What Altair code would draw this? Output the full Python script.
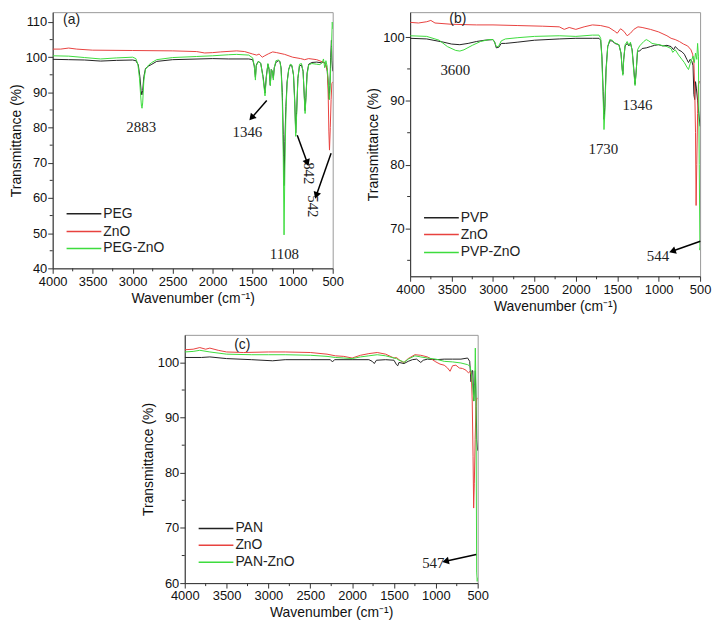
import math
import altair as alt
import pandas as pd

SANS = "Liberation Sans"
SERIF = "Liberation Serif"
C_BLACK, C_RED, C_GREEN = "#222222", "#e8423f", "#3ddc3d"
ROLES = ["polymer", "ZnO", "composite"]

X_TICKS = [4000, 3500, 3000, 2500, 2000, 1500, 1000, 500]
X_MINOR = [3750, 3250, 2750, 2250, 1750, 1250, 750]

# ---------------- panel (a) ----------------
A_PEG_WN = [4000, 3800, 3600, 3400, 3200, 3000, 2960, 2930, 2910, 2895, 2885, 2875, 2860, 2840, 2800, 2760, 2700, 2500, 2000, 1800, 1550, 1500, 1480, 1466, 1455, 1430, 1400, 1370, 1346, 1330, 1310, 1295, 1280, 1268, 1255, 1242, 1230, 1210, 1180, 1160, 1145, 1130, 1118, 1108, 1098, 1085, 1070, 1050, 1030, 1010, 990, 975, 962, 950, 935, 915, 890, 870, 855, 845, 835, 820, 800, 760, 700, 640, 610, 590, 570, 555, 545, 535, 525, 516, 508, 500]
A_PEG_T = [99.4, 99.3, 99.2, 98.9, 99.1, 99.2, 99.0, 97.8, 94.5, 90.5, 89.3, 90.5, 94.5, 96.8, 97.5, 98.0, 98.8, 99.3, 99.6, 99.5, 99.5, 99.3, 97.5, 94.3, 97.8, 98.8, 98.3, 94.5, 89.8, 94.5, 98.0, 96.5, 92.0, 96.5, 96.0, 94.0, 97.0, 98.5, 99.0, 98.8, 97.0, 90.0, 78.0, 63.5, 76.0, 86.0, 93.0, 96.5, 97.8, 97.5, 95.0, 88.0, 78.5, 85.0, 94.0, 97.5, 97.8, 96.0, 89.0, 84.8, 88.5, 95.5, 98.0, 98.5, 98.6, 98.4, 98.6, 98.0, 96.5, 92.0, 88.0, 92.0, 100.0, 104.8, 99.0, 96.0]
A_ZNO_WN = [4000, 3900, 3800, 3700, 3500, 3000, 2500, 2200, 2100, 2000, 1900, 1700, 1600, 1500, 1450, 1420, 1380, 1350, 1300, 1250, 1200, 1100, 1000, 900, 850, 800, 700, 620, 590, 565, 555, 548, 540, 530, 520, 510, 500]
A_ZNO_T = [102.3, 102.3, 102.6, 102.3, 102.0, 101.9, 101.8, 101.6, 101.2, 101.3, 101.5, 101.8, 101.6, 100.9, 100.6, 100.9, 100.0, 100.4, 101.0, 101.5, 101.3, 100.8, 100.0, 99.6, 99.3, 99.6, 99.3, 98.6, 98.0, 96.0, 88.0, 79.0, 73.6, 80.0, 88.0, 92.5, 93.0]
A_MIX_WN = [4000, 3800, 3600, 3400, 3200, 3000, 2960, 2935, 2915, 2900, 2890, 2883, 2875, 2860, 2840, 2800, 2760, 2700, 2500, 2200, 2000, 1800, 1700, 1550, 1500, 1480, 1466, 1455, 1430, 1400, 1370, 1346, 1330, 1310, 1295, 1280, 1268, 1255, 1242, 1230, 1210, 1180, 1160, 1145, 1130, 1118, 1108, 1098, 1085, 1070, 1050, 1030, 1010, 990, 975, 962, 950, 935, 915, 890, 870, 855, 845, 835, 820, 800, 760, 700, 660, 630, 615, 600, 585, 570, 555, 542, 535, 525, 515, 505, 500]
A_MIX_T = [100.4, 100.3, 99.9, 99.5, 99.8, 100.0, 99.6, 98.0, 94.0, 89.0, 86.0, 85.5, 87.0, 93.5, 96.5, 97.8, 98.5, 99.3, 99.9, 100.2, 100.4, 100.7, 100.8, 100.6, 99.8, 97.5, 93.5, 97.5, 98.8, 98.3, 94.0, 89.0, 94.0, 98.2, 96.8, 92.0, 96.5, 96.0, 93.5, 97.0, 99.0, 99.2, 98.8, 96.5, 88.0, 72.0, 49.5, 68.0, 84.0, 92.5, 96.5, 98.0, 97.8, 95.0, 87.0, 77.5, 84.0, 94.0, 98.0, 98.2, 96.0, 88.5, 84.0, 88.0, 95.0, 97.8, 98.2, 98.0, 97.9, 98.5, 99.5, 97.0, 99.0, 97.5, 93.0, 88.0, 90.0, 97.0, 103.0, 110.0, 108.0]

# ---------------- panel (b) ----------------
B_PVP_WN = [4000, 3800, 3600, 3500, 3400, 3300, 3200, 3100, 3000, 2980, 2960, 2930, 2900, 2850, 2700, 2500, 2200, 2000, 1800, 1720, 1700, 1685, 1670, 1660, 1650, 1635, 1615, 1590, 1560, 1530, 1480, 1455, 1440, 1432, 1422, 1405, 1380, 1360, 1340, 1320, 1300, 1285, 1272, 1255, 1230, 1200, 1150, 1100, 1050, 1000, 950, 900, 850, 820, 800, 760, 720, 690, 660, 640, 620, 600, 585, 575, 565, 555, 545, 530, 515, 500]
B_PVP_T = [99.8, 99.7, 99.2, 98.9, 98.8, 99.0, 99.3, 99.5, 99.6, 99.2, 98.3, 98.4, 99.0, 99.0, 99.2, 99.5, 99.7, 99.8, 99.8, 99.8, 99.5, 97.0, 91.5, 87.1, 89.0, 95.0, 98.5, 99.4, 99.4, 99.0, 98.8, 97.5, 95.0, 94.2, 96.5, 98.6, 99.0, 98.6, 99.0, 98.0, 95.0, 92.6, 94.5, 97.8, 97.8, 98.2, 98.3, 98.5, 98.7, 98.8, 98.6, 98.7, 98.5, 98.0, 98.5, 98.0, 97.7, 97.3, 96.5, 96.0, 96.5, 96.2, 95.5, 91.0, 90.2, 93.0, 92.0, 90.0, 88.0, 86.0]
B_ZNO_WN = [4000, 3900, 3800, 3750, 3700, 3500, 3200, 3000, 2700, 2400, 2200, 2140, 2080, 2000, 1900, 1800, 1700, 1600, 1530, 1500, 1460, 1420, 1380, 1340, 1300, 1250, 1200, 1100, 1000, 900, 850, 800, 750, 700, 650, 610, 590, 575, 565, 555, 548, 540, 530, 520, 510, 500]
B_ZNO_T = [102.3, 102.2, 102.4, 102.6, 102.2, 102.0, 101.9, 101.9, 101.8, 101.7, 101.6, 101.2, 101.5, 101.2, 101.6, 101.9, 101.8, 101.5, 100.9, 100.6, 101.3, 100.9, 100.2, 100.6, 101.2, 101.6, 101.5, 101.2, 100.8, 100.2, 99.8, 99.6, 99.3, 98.9, 98.6, 98.0, 97.3, 96.0, 92.0, 85.0, 73.6, 80.0, 88.0, 92.5, 93.0, 93.0]
B_MIX_WN = [4000, 3800, 3650, 3550, 3450, 3400, 3350, 3250, 3150, 3050, 3000, 2980, 2960, 2935, 2900, 2850, 2700, 2500, 2200, 2000, 1800, 1720, 1700, 1685, 1670, 1660, 1650, 1635, 1615, 1590, 1560, 1530, 1480, 1455, 1440, 1432, 1422, 1405, 1380, 1360, 1340, 1320, 1300, 1285, 1272, 1255, 1230, 1180, 1150, 1120, 1080, 1000, 900, 850, 830, 800, 760, 720, 690, 660, 640, 620, 600, 585, 570, 555, 540, 530, 520, 510, 502, 500]
B_MIX_T = [100.2, 100.1, 99.5, 98.5, 97.9, 97.8, 98.0, 98.7, 99.3, 99.6, 99.6, 99.2, 98.5, 98.5, 99.4, 99.7, 99.9, 100.1, 100.2, 100.1, 100.3, 100.3, 99.8, 96.5, 90.5, 85.5, 88.0, 94.5, 98.5, 99.6, 99.5, 99.1, 98.8, 97.5, 94.8, 94.0, 96.5, 98.8, 99.3, 98.7, 99.2, 97.8, 94.5, 92.4, 94.5, 98.0, 98.6, 99.3, 99.6, 99.4, 99.0, 98.8, 98.5, 98.2, 97.6, 98.0, 97.2, 96.5, 96.0, 95.3, 94.9, 95.8, 96.5, 97.0, 96.0, 97.5, 96.5, 99.0, 97.0, 80.0, 66.6, 67.0]

# ---------------- panel (c) ----------------
C_PAN_WN = [4000, 3800, 3700, 3500, 3200, 2950, 2800, 2500, 2260, 2235, 2210, 2000, 1800, 1760, 1735, 1710, 1600, 1500, 1470, 1455, 1440, 1380, 1330, 1280, 1230, 1180, 1150, 1100, 1000, 900, 800, 700, 620, 595, 580, 568, 558, 548, 538, 528, 518, 510, 500]
C_PAN_T = [100.9, 100.9, 101.0, 100.7, 100.5, 100.3, 100.5, 100.5, 100.5, 100.1, 100.5, 100.5, 100.5, 100.2, 99.8, 100.4, 100.5, 100.4, 99.6, 99.4, 100.0, 99.8, 100.2, 100.5, 100.6, 100.0, 100.4, 100.6, 100.5, 100.6, 100.6, 100.6, 100.8, 100.2, 96.5, 98.5, 98.5, 93.0, 95.0, 98.5, 92.0, 86.0, 84.0]
C_ZNO_WN = [4000, 3900, 3820, 3750, 3700, 3600, 3500, 3300, 3000, 2800, 2500, 2300, 2200, 2100, 2000, 1900, 1800, 1700, 1600, 1500, 1470, 1440, 1400, 1380, 1330, 1250, 1180, 1100, 1050, 1000, 950, 900, 860, 830, 800, 760, 720, 680, 640, 610, 590, 575, 565, 555, 548, 540, 530, 520, 510, 500]
C_ZNO_T = [102.3, 102.4, 102.7, 102.4, 102.6, 102.2, 101.9, 101.8, 101.9, 101.9, 101.8, 101.5, 101.2, 101.1, 100.8, 101.3, 101.6, 101.8, 101.5, 100.8, 100.9, 100.5, 100.1, 100.0, 100.7, 101.4, 101.3, 101.0, 100.6, 100.1, 99.7, 99.5, 99.0, 98.4, 99.4, 99.5, 99.0, 98.9, 98.6, 98.1, 98.4, 97.6, 93.0, 83.0, 73.6, 78.0, 86.0, 92.0, 93.5, 93.5]
C_MIX_WN = [4000, 3900, 3820, 3700, 3500, 3200, 3000, 2800, 2500, 2300, 2200, 2100, 2000, 1900, 1800, 1700, 1600, 1500, 1470, 1440, 1400, 1380, 1330, 1250, 1180, 1100, 1000, 900, 800, 700, 620, 590, 575, 565, 555, 545, 535, 528, 520, 512, 505, 500]
C_MIX_T = [101.9, 102.0, 102.2, 101.9, 101.5, 101.4, 101.4, 101.4, 101.3, 101.1, 100.9, 100.8, 100.7, 101.0, 101.2, 101.4, 101.2, 100.8, 100.7, 100.4, 100.2, 100.0, 100.6, 101.2, 101.0, 100.8, 100.6, 100.2, 100.1, 99.9, 99.6, 99.3, 98.0, 96.5, 95.0, 93.0, 96.0, 102.6, 95.0, 62.0, 60.3, 61.0]

# ---------------- annotations ----------------
A_LABELS = ["2883", "1346", "1108"]
A_LABEL_X = [2893, 1566, 1103]
A_LABEL_Y = [80.2, 78.8, 44.1]
A_RLABELS = ["842", "542"]
A_RLABEL_X = [801, 741]
A_RLABEL_Y = [67.0, 57.6]
A_ARROW_X1 = [1324, 943, 520]
A_ARROW_Y1 = [87.7, 77.8, 72.7]
A_ARROW_X2 = [1505, 822, 701]
A_ARROW_Y2 = [83.0, 70.3, 61.0]

B_LABELS = ["3600", "1730", "1346", "544"]
B_LABEL_X = [3455, 1668, 1256, 1008]
B_LABEL_Y = [94.9, 82.4, 89.3, 65.6]
B_ARROW_X1 = [497]
B_ARROW_Y1 = [68.0]
B_ARROW_X2 = [822]
B_ARROW_Y2 = [66.5]

C_LABELS = ["547"]
C_LABEL_X = [1030]
C_LABEL_Y = [63.7]
C_ARROW_X1 = [517]
C_ARROW_Y1 = [65.2]
C_ARROW_X2 = [871]
C_ARROW_Y2 = [64.0]


def panel(series, names, ydom, yticks, yminor, W, H, labels, rlabels, arrows,
          tag, tagpos, leg_offsets):
    colors = [C_BLACK, C_RED, C_GREEN]
    rows = []
    for role, (wn, t) in zip(ROLES, series):
        for a, b in zip(wn, t):
            rows.append({"wn": a, "t": b, "role": role})
    df = pd.DataFrame(rows)
    xs = alt.Scale(domain=[500, 4000], reverse=True, nice=False, zero=False)
    ys = alt.Scale(domain=ydom, nice=False, zero=False)
    xa = alt.Axis(values=X_TICKS, title="Wavenumber (cm⁻¹)", orient="bottom",
                  tickSize=5, labelFlush=False, labelOverlap=False, format="d",
                  labelPadding=2, titlePadding=3)
    ya = alt.Axis(values=yticks, title="Transmittance (%)", orient="left",
                  tickSize=5, labelFlush=False, labelOverlap=False, format="d",
                  labelPadding=1, titlePadding=2)

    def X(f):
        return alt.X(f, scale=xs, axis=xa)

    def Y(f):
        return alt.Y(f, scale=ys, axis=ya)

    lines = alt.Chart(df).mark_line(strokeWidth=1, clip=True).encode(
        x=X("wn:Q"), y=Y("t:Q"),
        color=alt.Color("role:N", scale=alt.Scale(domain=ROLES, range=colors), legend=None),
    )
    layers = [lines]

    # minor ticks (outside the frame)
    mx = pd.DataFrame({"v": X_MINOR})
    layers.append(alt.Chart(mx).mark_rule(color="#333", strokeWidth=1).encode(
        x=X("v:Q"), y=alt.value(H), y2=alt.value(H + 3)))
    my = pd.DataFrame({"v": yminor})
    layers.append(alt.Chart(my).mark_rule(color="#333", strokeWidth=1).encode(
        y=Y("v:Q"), x=alt.value(0), x2=alt.value(-3)))

    lx, ly, lt = labels
    tdf = pd.DataFrame({"x": lx, "y": ly, "label": lt})
    layers.append(alt.Chart(tdf).mark_text(font=SERIF, fontSize=15, color="#222").encode(
        x=X("x:Q"), y=Y("y:Q"), text="label:N"))
    if rlabels is not None:
        rx, ry, rt = rlabels
        rdf = pd.DataFrame({"x": rx, "y": ry, "label": rt})
        layers.append(alt.Chart(rdf).mark_text(font=SERIF, fontSize=15, color="#222",
                                               angle=90).encode(
            x=X("x:Q"), y=Y("y:Q"), text="label:N"))

    x1, y1, x2, y2 = arrows
    kx = W / 3500.0
    ky = H / (ydom[1] - ydom[0])
    ang = []
    for a, b, c, d in zip(x1, y1, x2, y2):
        dx = -(c - a) * kx
        dy = -(d - b) * ky
        ang.append(math.degrees(math.atan2(dx, -dy)) % 360)
    adf = pd.DataFrame({"x1": x1, "y1": y1, "x2": x2, "y2": y2, "ang": ang})
    layers.append(alt.Chart(adf).mark_rule(color="black", strokeWidth=1.5).encode(
        x=X("x1:Q"), y=Y("y1:Q"), x2="x2:Q", y2="y2:Q"))
    layers.append(alt.Chart(adf).mark_point(shape="triangle", filled=True, size=60,
                                            color="black", opacity=1).encode(
        x=X("x2:Q"), y=Y("y2:Q"), angle=alt.Angle("ang:Q", scale=None)))

    one = pd.DataFrame({"k": [0]})
    layers.append(alt.Chart(one).mark_text(font=SANS, fontSize=14, color="#222").encode(
        x=alt.value(tagpos[0]), y=alt.value(tagpos[1]), text=alt.value(tag)))
    for name, col, off in zip(names, colors, leg_offsets):
        layers.append(alt.Chart(one).mark_rule(color=col, strokeWidth=1.5).encode(
            x=alt.value(14), x2=alt.value(49), y=alt.value(H - off)))
        layers.append(alt.Chart(one).mark_text(font=SANS, fontSize=14, color="#222",
                                               align="left", baseline="middle").encode(
            x=alt.value(51), y=alt.value(H - off), text=alt.value(name)))

    return alt.layer(*layers).properties(width=W, height=H)


pa = panel([(A_PEG_WN, A_PEG_T), (A_ZNO_WN, A_ZNO_T), (A_MIX_WN, A_MIX_T)],
           ["PEG", "ZnO", "PEG-ZnO"], [40, 112.8], [40, 50, 60, 70, 80, 90, 100, 110],
           [45, 55, 65, 75, 85, 95, 105], 282, 258,
           (A_LABEL_X, A_LABEL_Y, A_LABELS), (A_RLABEL_X, A_RLABEL_Y, A_RLABELS),
           (A_ARROW_X1, A_ARROW_Y1, A_ARROW_X2, A_ARROW_Y2),
           "(a)", (19, 8), [55, 37, 20])
pb = panel([(B_PVP_WN, B_PVP_T), (B_ZNO_WN, B_ZNO_T), (B_MIX_WN, B_MIX_T)],
           ["PVP", "ZnO", "PVP-ZnO"], [62.5, 103.9], [70, 80, 90, 100],
           [65, 75, 85, 95], 292, 266,
           (B_LABEL_X, B_LABEL_Y, B_LABELS), None,
           (B_ARROW_X1, B_ARROW_Y1, B_ARROW_X2, B_ARROW_Y2),
           "(b)", (48, 7), [59, 42, 24])
pc = panel([(C_PAN_WN, C_PAN_T), (C_ZNO_WN, C_ZNO_T), (C_MIX_WN, C_MIX_T)],
           ["PAN", "ZnO", "PAN-ZnO"], [60, 105], [60, 70, 80, 90, 100],
           [65, 75, 85, 95], 295, 250,
           (C_LABEL_X, C_LABEL_Y, C_LABELS), None,
           (C_ARROW_X1, C_ARROW_Y1, C_ARROW_X2, C_ARROW_Y2),
           "(c)", (58, 10), [55, 38, 21])

spacer = alt.Chart(pd.DataFrame({"k": [0]})).mark_point(opacity=0, size=1).encode(
    x=alt.value(1), y=alt.value(1)).properties(
    width=87, height=10, view=alt.ViewBackground(stroke="transparent"))

chart = alt.vconcat(
    alt.hconcat(pa, pb, spacing=21),
    alt.hconcat(spacer, pc, spacing=0),
    spacing=20,
).properties(
    padding={"left": 0, "top": 1, "right": 0, "bottom": 0}
).configure_axis(
    labelFont=SANS, titleFont=SANS, labelFontSize=13, titleFontSize=14,
    titleFontWeight="normal", domainColor="#333", tickColor="#333",
    labelColor="#111", titleColor="#111", grid=False,
).configure_view(stroke="#999")

chart.save("out.html", embed_options={"renderer": "svg", "actions": False})
